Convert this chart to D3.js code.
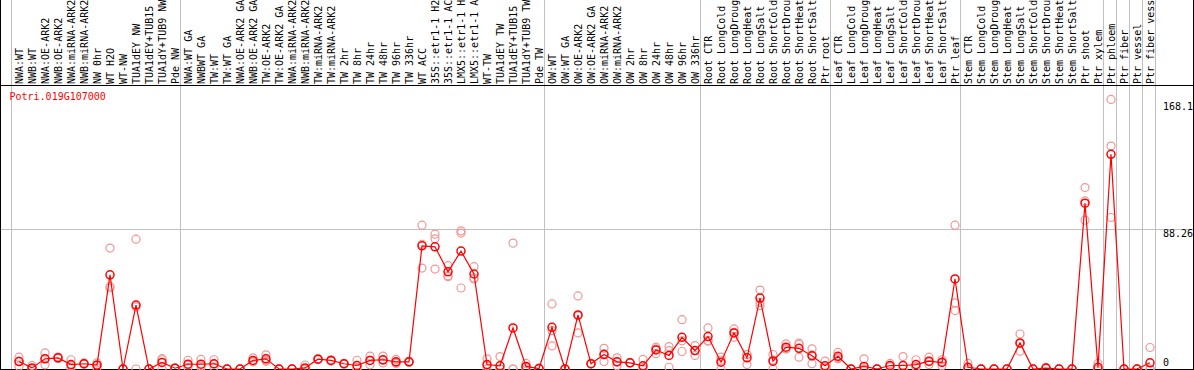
<!DOCTYPE html>
<html>
<head>
<meta charset="utf-8">
<script src="https://cdnjs.cloudflare.com/ajax/libs/d3/7.8.5/d3.min.js"></script>
<style>
body { margin: 0; background: #fff; }
svg { display: block; }
text { font-family: "DejaVu Sans Mono", monospace; font-size: 10px; }
</style>
</head>
<body>
<svg width="1194" height="370"></svg>
<script>
var gene = "Potri.019G107000"

var samples = [
    "NWA:WT", "NWB:WT", "NWA:OE-ARK2", "NWB:OE-ARK2", "NWA:miRNA-ARK2", "NWB:miRNA-ARK2",
    "NW 0hr", "WT H2O", "WT-NW", "TUA1dEY NW", "TUA1dEY+TUB15", "TUA1dY+TUB9 NW", "Pde NW",
    "NWA:WT GA", "NWBWT GA", "TW:WT", "TW:WT GA", "NWA:OE-ARK2 GA", "NWB:OE-ARK2 GA",
    "TW:OE-ARK2", "TW:OE-ARK2 GA", "NWA:miRNA-ARK2", "NWB:miRNA-ARK2", "TW:miRNA-ARK2",
    "TW:miRNA-ARK2", "TW 2hr", "TW 8hr", "TW 24hr", "TW 48hr", "TW 96hr", "TW 336hr",
    "WT ACC", "35S::etr1-1 H2", "35S::etr1-1 AC", "LMX5::etr1-1 H", "LMX5::etr1-1 A",
    "WT-TW", "TUA1dEY TW", "TUA1dEY+TUB15", "TUA1dY+TUB9 TW", "Pde TW",
    "OW:WT", "OW:WT GA", "OW:OE-ARK2", "OW:OE-ARK2 GA", "OW:miRNA-ARK2", "OW:miRNA-ARK2",
    "OW 2hr", "OW 8hr", "OW 24hr", "OW 48hr", "OW 96hr", "OW 336hr",
    "Root CTR", "Root LongCold", "Root LongDroug", "Root LongHeat", "Root LongSalt",
    "Root ShortCold", "Root ShortDrou", "Root ShortHeat", "Root ShortSalt", "Ptr root",
    "Leaf CTR", "Leaf LongCold", "Leaf LongDroug", "Leaf LongHeat", "Leaf LongSalt",
    "Leaf ShortCold", "Leaf ShortDrou", "Leaf ShortHeat", "Leaf ShortSalt", "Ptr leaf",
    "Stem CTR", "Stem LongCold", "Stem LongDroug", "Stem LongHeat", "Stem LongSalt",
    "Stem ShortCold", "Stem ShortDrou", "Stem ShortHeat", "Stem ShortSalt", "Ptr shoot",
    "Ptr xylem", "Ptr phloem", "Ptr fiber", "Ptr vessel", "Ptr fiber vess"
]

var means = [
    4.7, 0.7, 6.4, 7.0, 2.8, 3.3, 2.4, 59.2, 0, 40.2, 0, 4.1, 0.5,
    3.0, 3.0, 3.3, 0, 0, 5.4, 6.4, 0, 0, 0.7, 6.2, 5.4, 3.3, 2.2, 5.4, 5.8, 4.5, 4.5,
    77.4, 76.8, 61.1, 74.1, 59.7, 2.8, 2.0, 25.8, 1.6, 0.3,
    26.2, 0, 34.0, 3.3, 9.1, 4.5, 3.9, 2.0, 12.0, 8.5, 19.9, 11.6,
    20.4, 4.3, 22.7, 7.0, 44.6, 4.9, 13.7, 13.0, 8.3, 2.0,
    8.0, 0, 1.6, 0, 2.2, 2.2, 2.8, 4.9, 4.1, 56.6,
    1.1, 0, 0, 0, 16.4, 0, 0.6, 0, 0, 104.2, 1.1,
    134.9, 0, 0, 3.9
]

var reps = [
    [7.4, 1.8, 4.9], [2.2, 0, 0], [10.1, 2.6, 6.5], [7.5, 6.8, 6.7], [5.8, 0.5, 2.1],
    [3.8, 3.0, 3.1], [3.8, 0.8, 2.6], [76, 50.9, 51.9], [0, 0, 0], [81.6, 0, 39],
    [0, 0, 0], [6.5, 5.8, 0], [0.5, 0.3, 0.8],
    [5.5, 2.5, 1], [6, 2, 1], [5.8, 1.2, 3], [0, 0, 0], [0, 0, 0], [7.0, 4.5, 4.7],
    [8.9, 5.5, 4.8], [0, 0, 0], [0, 0, 0], [2.5, 0, 0], [6.2, 6.5, 5.9], [5.4, 5.8, 5.0],
    [3.5, 3.0, 3.4], [5.5, 1.0, 0], [8.1, 2.6, 5.5], [8.1, 3.8, 5.5], [6.0, 3.5, 4.0],
    [4.5, 4.8, 4.2], [90.4, 63.4, 78.4], [84.7, 81.8, 62.8], [64.9, 58.6, 58.0],
    [86.8, 85.4, 50.9], [64.3, 57.2, 56.6], [6.4, 2.0, 0], [7.8, 0, 0], [79.1, 0, 0],
    [3.5, 1.2, 0], [0.5, 0.2, 0.2],
    [40.9, 24.1, 14.5], [0, 0, 0], [45.9, 22.7, 33.4], [3.3, 3.5, 3.1], [13.0, 4.7, 9.6],
    [7, 2, 4.5], [4.0, 3.8, 3.9], [6, 0, 0], [13.7, 9.6, 12.7], [14.1, 11.6, 1.1],
    [31.0, 11.0, 17.7], [14.7, 8.5, 11.6],
    [25.8, 17.9, 17.5], [7.4, 0, 5.5], [25.2, 19.9, 23], [9.1, 2.8, 9.1], [49.6, 41.9, 39.8],
    [9.1, 0, 5.6], [15.8, 12.7, 12.6], [16.2, 7.4, 15.4], [12.7, 3.3, 8.9], [5, 0.5, 0.5],
    [10.4, 6.5, 7.1], [0, 0, 0], [6.4, 0, 0], [0, 0, 0], [3.5, 1.5, 1.6],
    [7.8, 0, 0], [5.8, 1.5, 1.1], [7.4, 2.8, 4.5], [2, 4.5, 5.8], [90.4, 41.5, 36.7],
    [3.5, 0, 0], [0, 0, 0], [0, 0, 0], [0, 0, 0], [22.0, 11.2, 16], [0, 0, 0],
    [1.1, 0.5, 0.2], [0, 0, 0], [0, 0, 0], [114.0, 105.6, 93.5], [3.5, 0, 0],
    [169.4, 140.1, 95.2], [0, 0, 0], [0, 0, 0], [13.5, 0, 0]
]

// index of the last sample in each group (-1 = left edge)
var groupEnds = [-1, 12, 40, 52, 62, 72, 83, 84, 85, 86, 87]
var yTicks = [0, 88.26, 168.1]

var svg = d3.select("svg"),
    width = +svg.attr("width"),
    height = +svg.attr("height"),
    headerH = 85,
    baseY = 369,
    red = "#ff0000",
    pink = "#f09696",
    grid = "#c0c0c0";

var x = d3.scaleLinear().domain([0, samples.length - 1]).range([19, 1150]);
var y = d3.scaleLinear().domain([0, 168.1]).range([baseY, 101.5]);

// vertical group separators
svg.append("g").selectAll("line")
    .data(groupEnds)
    .enter().append("line")
    .attr("x1", function (d) { return Math.round(x(d + 5 / 13)) + 0.5; })
    .attr("x2", function (d) { return Math.round(x(d + 5 / 13)) + 0.5; })
    .attr("y1", 0)
    .attr("y2", baseY)
    .attr("stroke", grid);

// horizontal mid gridline
svg.append("line")
    .attr("x1", 0).attr("x2", width)
    .attr("y1", Math.round(y(88.26)) + 0.5)
    .attr("y2", Math.round(y(88.26)) + 0.5)
    .attr("stroke", grid);

// frame
svg.append("line").attr("x1", 0).attr("x2", width).attr("y1", headerH + 0.5).attr("y2", headerH + 0.5).attr("stroke", "#000");
svg.append("line").attr("x1", 0).attr("x2", width).attr("y1", baseY + 0.5).attr("y2", baseY + 0.5).attr("stroke", "#000");
svg.append("line").attr("x1", 0.5).attr("x2", 0.5).attr("y1", 0).attr("y2", height).attr("stroke", "#000");
svg.append("line").attr("x1", width - 0.5).attr("x2", width - 0.5).attr("y1", 0).attr("y2", height).attr("stroke", "#000");

// sample labels
svg.append("g").selectAll("text")
    .data(samples)
    .enter().append("text")
    .attr("transform", function (d, i) {
        return "translate(" + (x(i) + 3.5) + "," + (headerH - 1) + ") rotate(-90)";
    })
    .attr("fill", "#000")
    .text(function (d) { return d; });

// y tick labels
svg.append("g").selectAll("text")
    .data(yTicks)
    .enter().append("text")
    .attr("x", 1163)
    .attr("y", function (d) { return d === 0 ? y(d) - 3.5 : y(d) + 8; })
    .attr("fill", "#000")
    .text(function (d) { return d; });

// title
svg.append("text")
    .attr("x", 9.5)
    .attr("y", 100)
    .attr("fill", red)
    .text(gene);

// replicate points
var repPts = [];
reps.forEach(function (r, i) {
    r.forEach(function (v) { repPts.push({i: i, v: v}); });
});
svg.append("g").selectAll("circle")
    .data(repPts)
    .enter().append("circle")
    .attr("cx", function (d) { return x(d.i); })
    .attr("cy", function (d) { return y(d.v); })
    .attr("r", 4)
    .attr("fill", "none")
    .attr("stroke", pink)
    .attr("stroke-width", 1.2);

// mean line
var line = d3.line()
    .x(function (d, i) { return x(i); })
    .y(function (d) { return y(d); });

svg.append("path")
    .datum(means)
    .attr("d", line)
    .attr("fill", "none")
    .attr("stroke", red)
    .attr("stroke-width", 1.2);

svg.append("g").selectAll("circle")
    .data(means)
    .enter().append("circle")
    .attr("cx", function (d, i) { return x(i); })
    .attr("cy", function (d) { return y(d); })
    .attr("r", 4)
    .attr("fill", "none")
    .attr("stroke", red)
    .attr("stroke-width", 1.5);
</script>
</body>
</html>
